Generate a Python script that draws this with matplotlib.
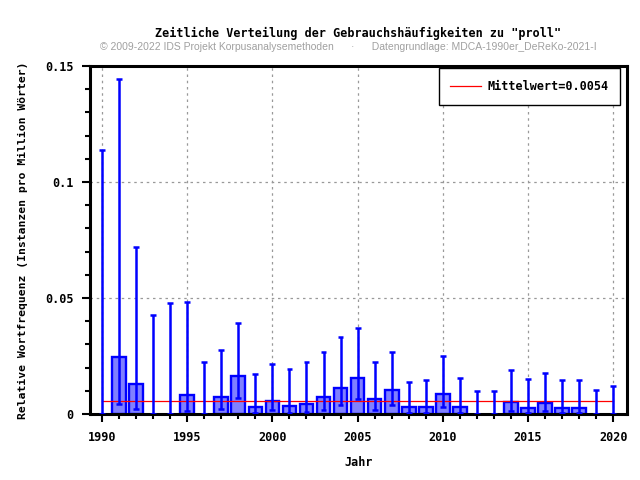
import numpy as np
import matplotlib
matplotlib.use("Agg")
import matplotlib.pyplot as plt
from matplotlib.ticker import MultipleLocator, FuncFormatter

years = list(range(1990, 2021))
# mean relative frequency per year (0 = no bar)
values = [0.0, 0.0247, 0.0128, 0.0, 0.0, 0.0083, 0.0, 0.0075, 0.0165, 0.0032,
          0.0057, 0.0036, 0.0042, 0.0075, 0.0113, 0.0157, 0.0063, 0.0102, 0.0029, 0.0029,
          0.0085, 0.0029, 0.0, 0.0, 0.0052, 0.0027, 0.0049, 0.0027, 0.0027, 0.0, 0.0]
lower = [0.0, 0.0045, 0.0022, 0.0, 0.0, 0.0013, 0.0, 0.0022, 0.0069, 0.0006,
         0.0019, 0.0006, 0.0009, 0.0019, 0.0039, 0.0066, 0.0019, 0.0039, 0.0003, 0.0003,
         0.0030, 0.0004, 0.0, 0.0, 0.0014, 0.0004, 0.0014, 0.0004, 0.0004, 0.0, 0.0]
upper = [0.1138, 0.1444, 0.0720, 0.0427, 0.0478, 0.0484, 0.0226, 0.0277, 0.0392, 0.0174,
         0.0217, 0.0194, 0.0226, 0.0269, 0.0332, 0.0372, 0.0226, 0.0269, 0.0139, 0.0148,
         0.0251, 0.0157, 0.0101, 0.0101, 0.0191, 0.0151, 0.0177, 0.0148, 0.0148, 0.0105, 0.0121]
mean_value = 0.0054

TITLE = 'Zeitliche Verteilung der Gebrauchshäufigkeiten zu "proll"'
SUBTITLE = ("© 2009-2022 IDS Projekt Korpusanalysemethoden      ·      "
            "Datengrundlage: MDCA-1990er_DeReKo-2021-I")

mono = "DejaVu Sans Mono"
blue = "#0000ff"

fig = plt.figure(figsize=(6.4, 4.8), dpi=100)
ax = fig.add_axes([0.1406, 0.1375, 0.839, 0.725])

yrs = np.array(years)
vals = np.array(values)
lo = np.array(lower)
up = np.array(upper)

has_bar = vals > 0
ax.bar(yrs[has_bar], vals[has_bar], width=0.8, color="#8080ff",
       edgecolor=blue, linewidth=1.7, zorder=2)

ax.plot([years[0], years[-1]], [mean_value, mean_value], color="red", lw=0.9,
        zorder=3, label=f"Mittelwert={mean_value:.4f}")

# error bars: from lower to upper, caps at both ends
ax.vlines(yrs, lo, up, color=blue, lw=1.8, zorder=4)
ax.hlines(up, yrs - 0.17, yrs + 0.17, color=blue, lw=1.8, zorder=4)
ax.hlines(lo, yrs - 0.17, yrs + 0.17, color=blue, lw=1.8, zorder=4)

ax.set_xlim(1989.3, 2020.8)
ax.set_ylim(0, 0.15)
ax.xaxis.set_major_locator(MultipleLocator(5))
ax.xaxis.set_minor_locator(MultipleLocator(1))
ax.yaxis.set_major_locator(MultipleLocator(0.05))
ax.yaxis.set_minor_locator(MultipleLocator(0.01))
ax.yaxis.set_major_formatter(FuncFormatter(lambda v, p: f"{v:g}"))

ax.tick_params(which="both", direction="out", width=1.5, color="black")
ax.tick_params(which="major", length=6, labelsize=8.5, pad=6)
ax.tick_params(which="minor", length=3.5)
for lab in ax.get_xticklabels() + ax.get_yticklabels():
    lab.set_fontfamily(mono)
    lab.set_fontweight("bold")

for s in ax.spines.values():
    s.set_linewidth(2.2)

ax.grid(True, which="major", linestyle=(0, (2, 3)), color="#999999", lw=0.9)
ax.set_axisbelow(True)

ax.set_xlabel("Jahr", family=mono, weight="bold", fontsize=8.5, labelpad=9)
ax.set_ylabel("Relative Wortfrequenz (Instanzen pro Million Wörter)",
              family=mono, weight="bold", fontsize=8.2, labelpad=12)

fig.text(0.559, 0.931, TITLE, ha="center", va="center", family=mono,
         weight="bold", fontsize=8.5)
fig.text(0.544, 0.903, SUBTITLE, ha="center", va="center",
         family="Liberation Sans", color="#a0a0a0", fontsize=7.5)

leg = ax.legend(loc="upper right", prop={"family": mono, "weight": "bold", "size": 8.5},
                fancybox=False, edgecolor="black", framealpha=1, borderpad=1.0,
                handlelength=2.6, handletextpad=0.5,
                borderaxespad=0, bbox_to_anchor=(0.987, 0.994))
leg.get_frame().set_linewidth(1.0)

fig.savefig("out.png", dpi=100)
